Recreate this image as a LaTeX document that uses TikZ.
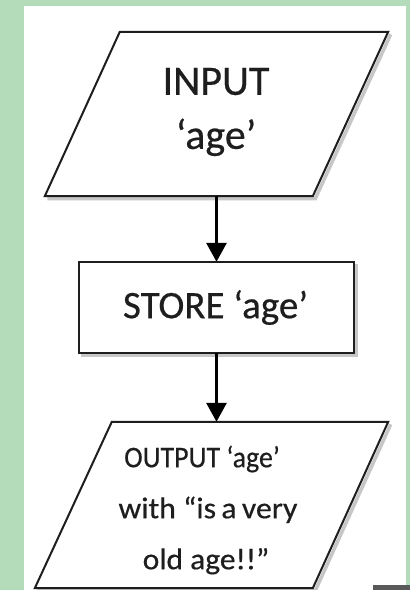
\documentclass[tikz,border=0pt]{standalone}
\usepackage{fontspec}
\setmainfont{Carlito}[FakeBold=0.5]
\usetikzlibrary{arrows.meta}
\definecolor{bggreen}{RGB}{180,220,186}
\definecolor{inkc}{RGB}{30,30,30}
\begin{document}
\begin{tikzpicture}[x=1pt,y=1pt,
  shapeline/.style={draw=inkc, line width=2pt, fill=white, line join=miter},
  shadowline/.style={draw=black!22, line width=3.5pt},
  boxframe/.style={draw=none, inner sep=0pt, align=center, text=inkc},
  bigtxt/.style={font=\fontsize{42}{54}\selectfont},
  midtxt/.style={font=\fontsize{39}{50}\selectfont},
  smalltxt/.style={font=\fontsize{30}{51}\selectfont},
  flow/.style={draw=black, line width=3pt, -{Triangle[width=20pt,length=19pt]}}]
\useasboundingbox (0,0) rectangle (410,590);
\fill[bggreen] (0,0) rectangle (410,590);
\fill[white] (24,0) rectangle (406,584);
\fill[black!65] (373,0) rectangle (410,5);

% INPUT parallelogram
\node[boxframe, minimum width=343pt, minimum height=164pt] (in) at (216.5,476) {};
\draw[shadowline] ([shift={(2.5,-2.5)}]in.south west) -- ([shift={(270.5,-2.5)}]in.south west)
  -- ([shift={(2.5,-2.5)}]in.north east);
\draw[shapeline] (in.south west) -- ([xshift=268pt]in.south west) -- (in.north east)
  -- ([xshift=75pt]in.north west) -- cycle;
\node[boxframe, bigtxt] (intext) at (216,478) {INPUT\\‘age’};

% STORE rectangle
\node[boxframe, minimum width=275pt, minimum height=91pt] (store) at (216.5,282.5) {};
\draw[shadowline] ([shift={(2.5,-2.5)}]store.south west) -- ([shift={(2.5,-2.5)}]store.south east)
  -- ([shift={(2.5,-2.5)}]store.north east);
\draw[shapeline] (store.south west) rectangle (store.north east);
\node[boxframe, midtxt] (storetext) at ([xshift=-1pt]store.center) {STORE ‘age’};

% OUTPUT parallelogram
\node[boxframe, minimum width=353pt, minimum height=166pt] (out) at (211.5,85) {};
\draw[shadowline] ([shift={(2.5,-2.5)}]out.south west) -- ([shift={(280.5,-2.5)}]out.south west)
  -- ([shift={(2.5,-2.5)}]out.north east);
\draw[shapeline] (out.south west) -- ([xshift=278pt]out.south west) -- (out.north east)
  -- ([xshift=77pt]out.north west) -- cycle;
\node[boxframe, smalltxt] (outtext) at (208,80) {\hspace*{-12pt}\scalebox{0.93}[1]{OUTPUT ‘age’}\\\scalebox{1.06}[1]{with “is\,a\,very}\\\hspace*{-4pt}\scalebox{1.05}[1]{old age!!”}};

% connectors
\draw[flow] (in.south) -- (store.north);
\draw[flow] (store.south) -- (store.south |- out.north);
\end{tikzpicture}
\end{document}
